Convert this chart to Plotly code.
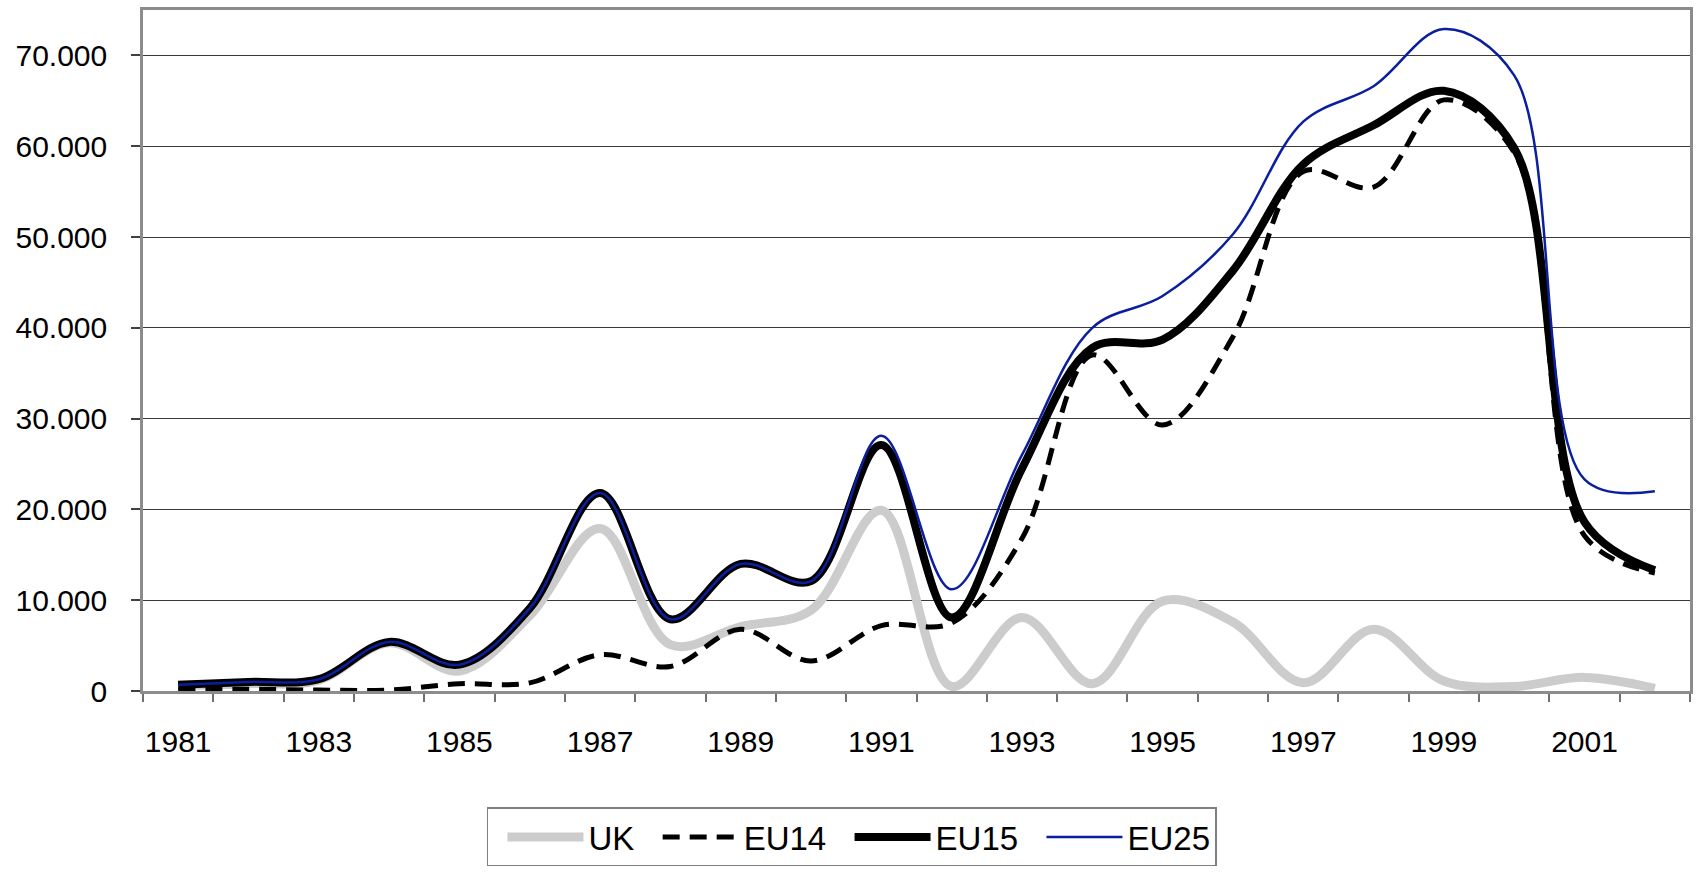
import plotly.graph_objects as go

years = list(range(1981, 2003))
uk = [600, 800, 1200, 5300, 2200, 8300, 17900, 5100, 7100, 8900, 19900,
      500, 8100, 800, 9900, 7600, 900, 6800, 1100, 500, 1500, 300]
eu14 = [100, 200, 100, 100, 800, 900, 4000, 2700, 6800, 3300, 7200,
        7500, 16800, 37000, 29300, 39000, 57200, 55500, 65100, 59300, 17100, 13000]
eu15 = [700, 1000, 1300, 5400, 2900, 9100, 21800, 7900, 14000, 12100, 27100,
        8100, 24500, 37800, 38700, 46300, 58000, 62300, 66100, 59800, 18600, 13300]
eu25 = [700, 1000, 1300, 5400, 2900, 9100, 21800, 7900, 14000, 12100, 28100,
        11200, 26000, 40000, 43500, 50300, 62700, 66600, 72900, 67800, 23300, 22000]
series_names = ["UK", "EU14", "EU15", "EU25"]

label_years = years[::2]
y_ticks = [0, 10000, 20000, 30000, 40000, 50000, 60000, 70000]

FONT = "Liberation Sans, Arial, sans-serif"
NB = "\u00a0\u00a0"

fig = go.Figure()
fig.add_trace(go.Scatter(x=years, y=uk, name=series_names[0] + NB, mode="lines",
                         line=dict(color="#CCCCCC", width=9, shape="spline", smoothing=1.0)))
fig.add_trace(go.Scatter(x=years, y=eu14, name=series_names[1] + NB, mode="lines",
                         line=dict(color="#000000", width=5, dash="17px,10px", shape="spline", smoothing=1.0)))
fig.add_trace(go.Scatter(x=years, y=eu15, name=series_names[2] + NB, mode="lines",
                         line=dict(color="#000000", width=8, shape="spline", smoothing=1.0)))
fig.add_trace(go.Scatter(x=years, y=eu25, name=series_names[3], mode="lines",
                         line=dict(color="#0A1E9E", width=2.5, shape="spline", smoothing=1.0)))

fig.update_layout(
    width=1700, height=879,
    margin=dict(l=142.7, r=7.3, t=9.3, b=188.3),
    paper_bgcolor="white", plot_bgcolor="white",
    separators=",.",
    font=dict(family=FONT, size=30, color="black"),
    showlegend=True,
    legend=dict(orientation="h", x=0.458, xanchor="center", y=-0.171, yanchor="top",
                bordercolor="#7F7F7F", borderwidth=1.5, bgcolor="white",
                font=dict(family=FONT, size=33, color="black"),
                title=dict(text="\u00a0", side="left", font=dict(family=FONT, size=16)),
                itemwidth=76, traceorder="normal"),
)
fig.update_xaxes(
    range=[years[0] - 0.5, years[-1] + 0.5],
    tickmode="array", tickvals=label_years, ticktext=[str(y) for y in label_years],
    ticks="", ticklabelstandoff=22,
    minor=dict(tickmode="array", tickvals=[y - 0.5 for y in years] + [years[-1] + 0.5],
               ticks="outside", ticklen=8, tickcolor="#707070", tickwidth=1.5, showgrid=False),
    showgrid=False, zeroline=False,
    showline=True, linecolor="#8C8C8C", linewidth=2.5, mirror=True,
    tickfont=dict(family=FONT, size=30, color="black"),
)
fig.update_yaxes(
    range=[0, 75000],
    tickmode="array", tickvals=y_ticks, tickformat=",d",
    ticks="outside", ticklen=9, tickcolor="#404040", tickwidth=1.5,
    ticklabelstandoff=18,
    showgrid=True, gridcolor="#3A3A3A", gridwidth=1,
    zeroline=False,
    showline=True, linecolor="#8C8C8C", linewidth=2.5, mirror=True,
    tickfont=dict(family=FONT, size=30, color="black"),
)

fig.write_html("out.html", config={"displayModeBar": False},
               post_script="document.body.style.margin='0';document.body.style.overflow='hidden';")
